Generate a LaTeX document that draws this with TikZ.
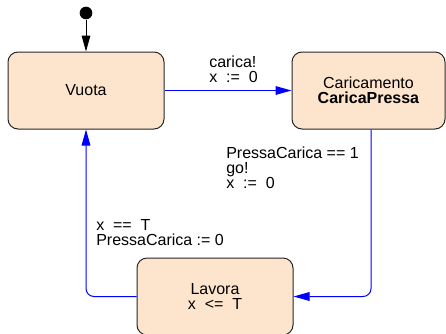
\documentclass[tikz,border=0pt]{standalone}
\usepackage{fontspec}
\setmainfont{Liberation Sans}
\usetikzlibrary{arrows.meta}
\definecolor{boxfill}{RGB}{253,229,205}
\definecolor{flowblue}{RGB}{0,0,255}
\tikzset{
  state/.style={draw=black!85, fill=boxfill, rounded corners=7.5pt, line width=0.75pt,
    minimum width=117pt, minimum height=57.75pt, align=center, inner sep=0pt},
  flow/.style={draw=flowblue, line width=0.75pt, rounded corners=6pt,
    -{Triangle[length=12pt,width=6.5pt]}},
  lbl/.style={anchor=base west, align=left, inner sep=0pt},
}
\begin{document}
\begin{tikzpicture}[x=0.75pt,y=-0.75pt,font=\fontsize{12}{11.25}\selectfont]
\useasboundingbox (0,0) rectangle (446,333);
\node[state] (vuota) at (86,90.5) {Vuota};
\node[state, minimum width=114.75pt] (car) at (368.5,90.5) {Caricamento\\\textbf{CaricaPressa}};
\node[state] (lav) at (215,296.5) {Lavora\\x \ <= \ T};
\node[circle, fill=black, inner sep=0pt, minimum size=9.5pt] (init) at (86,13) {};
\draw[line width=0.75pt, -{Triangle[length=12pt,width=6.5pt]}] (init) -- (vuota.north);
\draw[flow] (vuota.east) -- (car.west);
\draw[flow] ([xshift=1.9pt]car.south) |- (lav.east);
\draw[flow] (lav.west) -| (vuota.south);
\node[lbl] (l1) at (209,82) {carica!\\x \ := \ 0};
\node[lbl] (l2) at (226,188) {PressaCarica == 1\\go!\\x \ := \ 0};
\node[lbl] (l3) at (96,245) {x \ == \ T\\PressaCarica := 0};
\end{tikzpicture}
\end{document}
